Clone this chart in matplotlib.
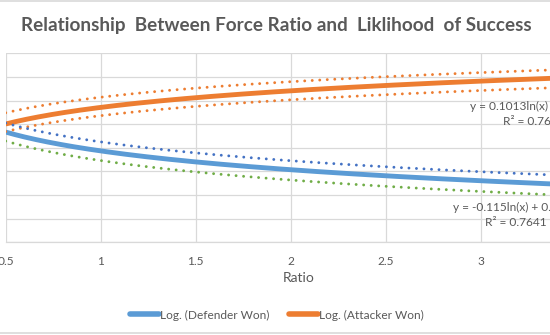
import numpy as np
import matplotlib
matplotlib.use("Agg")
import matplotlib.pyplot as plt
from matplotlib.lines import Line2D

# Logarithmic trend fits: y = slope * ln(x) + intercept
ratio_range = [0.5, 3.5]
defender_fit = [-0.115, 0.3869]
attacker_fit = [0.1013, 0.5710]
attacker_upper = [0.095, 0.614]
attacker_lower = [0.097, 0.536]
defender_upper = [-0.115, 0.425]
defender_lower = [-0.119, 0.346]
defender_r2 = 0.7641
attacker_r2 = 0.7608

x_ticks = [0.5, 1, 1.5, 2, 2.5, 3, 3.5]
x_tick_labels = ["0.5", "1", "1.5", "2", "2.5", "3", ""]
y_ticks = [0, 0.1, 0.2, 0.3, 0.4, 0.5, 0.6, 0.7, 0.8]

BLUE = "#5B9BD5"
ORANGE = "#ED7D31"
DARK_BLUE = "#4472C4"
GREEN = "#70AD47"
GRID = "#D9D9D9"
TEXT = "#595959"
FONT = "Lato"

W, H = 550, 335
fig = plt.figure(figsize=(W / 100, H / 100), dpi=100)
fig.patch.set_facecolor("white")


def px(x, y):
    return x / W, 1 - y / H


# plot area in pixels: left 5.7, top 53.3, bottom 242.3, 190 px per unit of ratio
left, top, bottom = 5.7, 53.3, 242.3
right = left + 190 * (ratio_range[1] - ratio_range[0])
ax = fig.add_axes([left / W, 1 - bottom / H, (right - left) / W, (bottom - top) / H])
ax.set_xlim(*ratio_range)
ax.set_ylim(y_ticks[0], y_ticks[-1])
ax.set_xticks(x_ticks)
ax.set_yticks(y_ticks)
ax.set_yticklabels([])
ax.set_xticklabels(x_tick_labels, fontsize=8.6, color=TEXT, family=FONT)
ax.tick_params(axis="both", length=0, pad=10)
ax.tick_params(axis="y", left=False, labelleft=False)
ax.grid(True, color=GRID, linewidth=0.9)
ax.set_axisbelow(True)
for side in ["top", "right", "left"]:
    ax.spines[side].set_visible(False)
ax.spines["bottom"].set_color(GRID)
ax.spines["bottom"].set_linewidth(0.9)

xs = np.linspace(ratio_range[0], ratio_range[1], 300)


def log_fit(coef):
    return coef[0] * np.log(xs) + coef[1]


ax.plot(xs, log_fit(defender_fit), color=BLUE, lw=3.5, solid_capstyle="butt", zorder=3)
ax.plot(xs, log_fit(attacker_fit), color=ORANGE, lw=3.5, solid_capstyle="butt", zorder=3)

dot_style = dict(lw=2.1, linestyle=(0, (0.01, 2.57)), dash_capstyle="round", zorder=4)
ax.plot(xs, log_fit(attacker_upper), color=ORANGE, **dot_style)
ax.plot(xs, log_fit(attacker_lower), color=ORANGE, **dot_style)
ax.plot(xs, log_fit(defender_upper), color=DARK_BLUE, **dot_style)
ax.plot(xs, log_fit(defender_lower), color=GREEN, **dot_style)

# trendline equations
eq_kw = dict(ha="center", va="center", fontsize=8.6, color=TEXT, family=FONT)
fig.text(*px(533.7, 106.7), f"y = {attacker_fit[0]:.4f}ln(x) + {attacker_fit[1]:.4f}", **eq_kw)
fig.text(*px(533.7, 121.0), f"R² = {attacker_r2:.4f}", **eq_kw)
fig.text(*px(515.5, 207.0), f"y = {defender_fit[0]:.3f}ln(x) + {defender_fit[1]:.4f}", **eq_kw)
fig.text(*px(515.5, 222.7), f"R² = {defender_r2:.4f}", **eq_kw)

# title and axis label
fig.text(*px(276, 26), "Relationship  Between Force Ratio and  Liklihood  of Success",
         ha="center", va="center", fontsize=13.6, fontweight="bold", color=TEXT, family=FONT)
fig.text(*px(299, 278.5), "Ratio", ha="center", va="center", fontsize=10, color=TEXT, family=FONT)

# legend
handles = [
    Line2D([], [], color=BLUE, lw=4, solid_capstyle="round"),
    Line2D([], [], color=ORANGE, lw=4, solid_capstyle="round"),
]
leg = fig.legend(handles, ["Log. (Defender Won)", "Log. (Attacker Won)"],
                 loc="center", bbox_to_anchor=px(277, 315), ncol=2, frameon=False,
                 prop={"family": FONT, "size": 8.6}, handlelength=2.4,
                 handletextpad=0.15, columnspacing=1.6, borderaxespad=0)
for t in leg.get_texts():
    t.set_color(TEXT)

# chart border lines
fig.add_artist(Line2D([0, 1], [1 - 1 / H, 1 - 1 / H], color=GRID, lw=1.2, transform=fig.transFigure))
fig.add_artist(Line2D([0, 1], [1 - 333.3 / H, 1 - 333.3 / H], color=GRID, lw=1.2, transform=fig.transFigure))

fig.savefig("out.png", dpi=100)
